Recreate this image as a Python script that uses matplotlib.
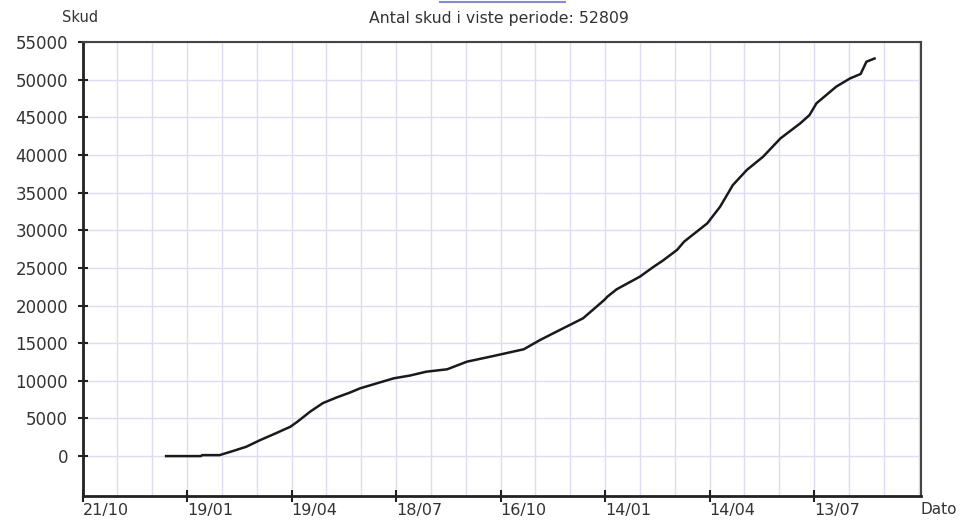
import matplotlib
matplotlib.use("Agg")
import matplotlib.pyplot as plt
import matplotlib.transforms as mtransforms
from matplotlib.lines import Line2D
import numpy as np

# Data: days since 21/10 and cumulative shot count
days = [72, 102, 103, 118, 128, 141, 153, 166, 179, 185, 196, 207, 219, 230, 239,
        252, 268, 282, 296, 314, 331, 354, 380, 394, 411, 431, 440, 449, 452, 460,
        480, 492, 500, 512, 518, 538, 549, 560, 572, 586, 601, 618, 626, 632, 649,
        661, 670, 675, 682]
shots = [0, 0, 130, 130, 600, 1240, 2125, 3000, 3900, 4560, 5900, 7040, 7800, 8420, 9000,
         9600, 10330, 10700, 11210, 11530, 12540, 13300, 14190, 15420, 16750, 18300, 19500, 20700, 21180, 22160,
         23840, 25170, 26000, 27390, 28480, 30920, 33120, 36000, 38000, 39760, 42200, 44190, 45300, 46860, 49070,
         50170, 50750, 52380, 52809]
tick_days = [0, 90, 180, 270, 360, 450, 540, 630]
tick_labels = ['21/10', '19/01', '19/04', '18/07', '16/10', '14/01', '14/04', '13/07']
y_ticks = list(range(0, 55001, 5000))
total = 52809

W, H = 961, 521
fig = plt.figure(figsize=(W / 100, H / 100), dpi=100)
fig.patch.set_facecolor('white')
ax = fig.add_axes([82.5 / W, (H - 496) / H, (921 - 82.5) / W, (496 - 42) / H])

grid_c = '#dcdcf2'
ax.set_xlim(0, 722)
ax.set_ylim(-5300, 55000)
ax.set_xticks(tick_days)
ax.set_xticks(np.arange(0, 722, 30), minor=True)
ax.set_yticks(y_ticks)
ax.grid(True, which='both', axis='x', color=grid_c, linewidth=1.0)
ax.grid(True, which='major', axis='y', color=grid_c, linewidth=1.0)
ax.set_axisbelow(True)

ax.plot(days, shots, color='#1a1a1a', linewidth=1.8, solid_joinstyle='round')

txt_c = '#333333'
ax.set_xticklabels(tick_labels, fontsize=11.5, color=txt_c, ha='left')
offset = mtransforms.ScaledTranslation(3 / 72, 0, fig.dpi_scale_trans)
for lab in ax.get_xticklabels():
    lab.set_transform(lab.get_transform() + offset)
ax.set_yticklabels([str(v) for v in y_ticks], fontsize=12, color=txt_c)

ax.tick_params(axis='x', which='major', direction='inout', length=8, width=1.5, pad=1, color='#222222')
ax.tick_params(axis='x', which='minor', length=0)
ax.tick_params(axis='y', direction='inout', length=7, width=1.5, pad=7, color='#222222')

for s in ['left', 'bottom']:
    ax.spines[s].set_color('#222222')
    ax.spines[s].set_linewidth(2.0)
for s in ['top', 'right']:
    ax.spines[s].set_color('#444444')
    ax.spines[s].set_linewidth(1.5)

fig.text(80 / W, 1 - 18 / H, 'Skud', fontsize=10.5, color=txt_c, ha='center', va='center')
fig.text(499 / W, 1 - 18 / H, f'Antal skud i viste periode: {total}', fontsize=11.3,
         color=txt_c, ha='center', va='center')
fig.text(957 / W, 1 - 509 / H, 'Dato', fontsize=11, color=txt_c, ha='right', va='center')
fig.add_artist(Line2D([440 / W, 565 / W], [1 - 1.5 / H, 1 - 1.5 / H], transform=fig.transFigure,
                      color='#8a8ad0', linewidth=1.5))

fig.savefig('out.png', dpi=100)
